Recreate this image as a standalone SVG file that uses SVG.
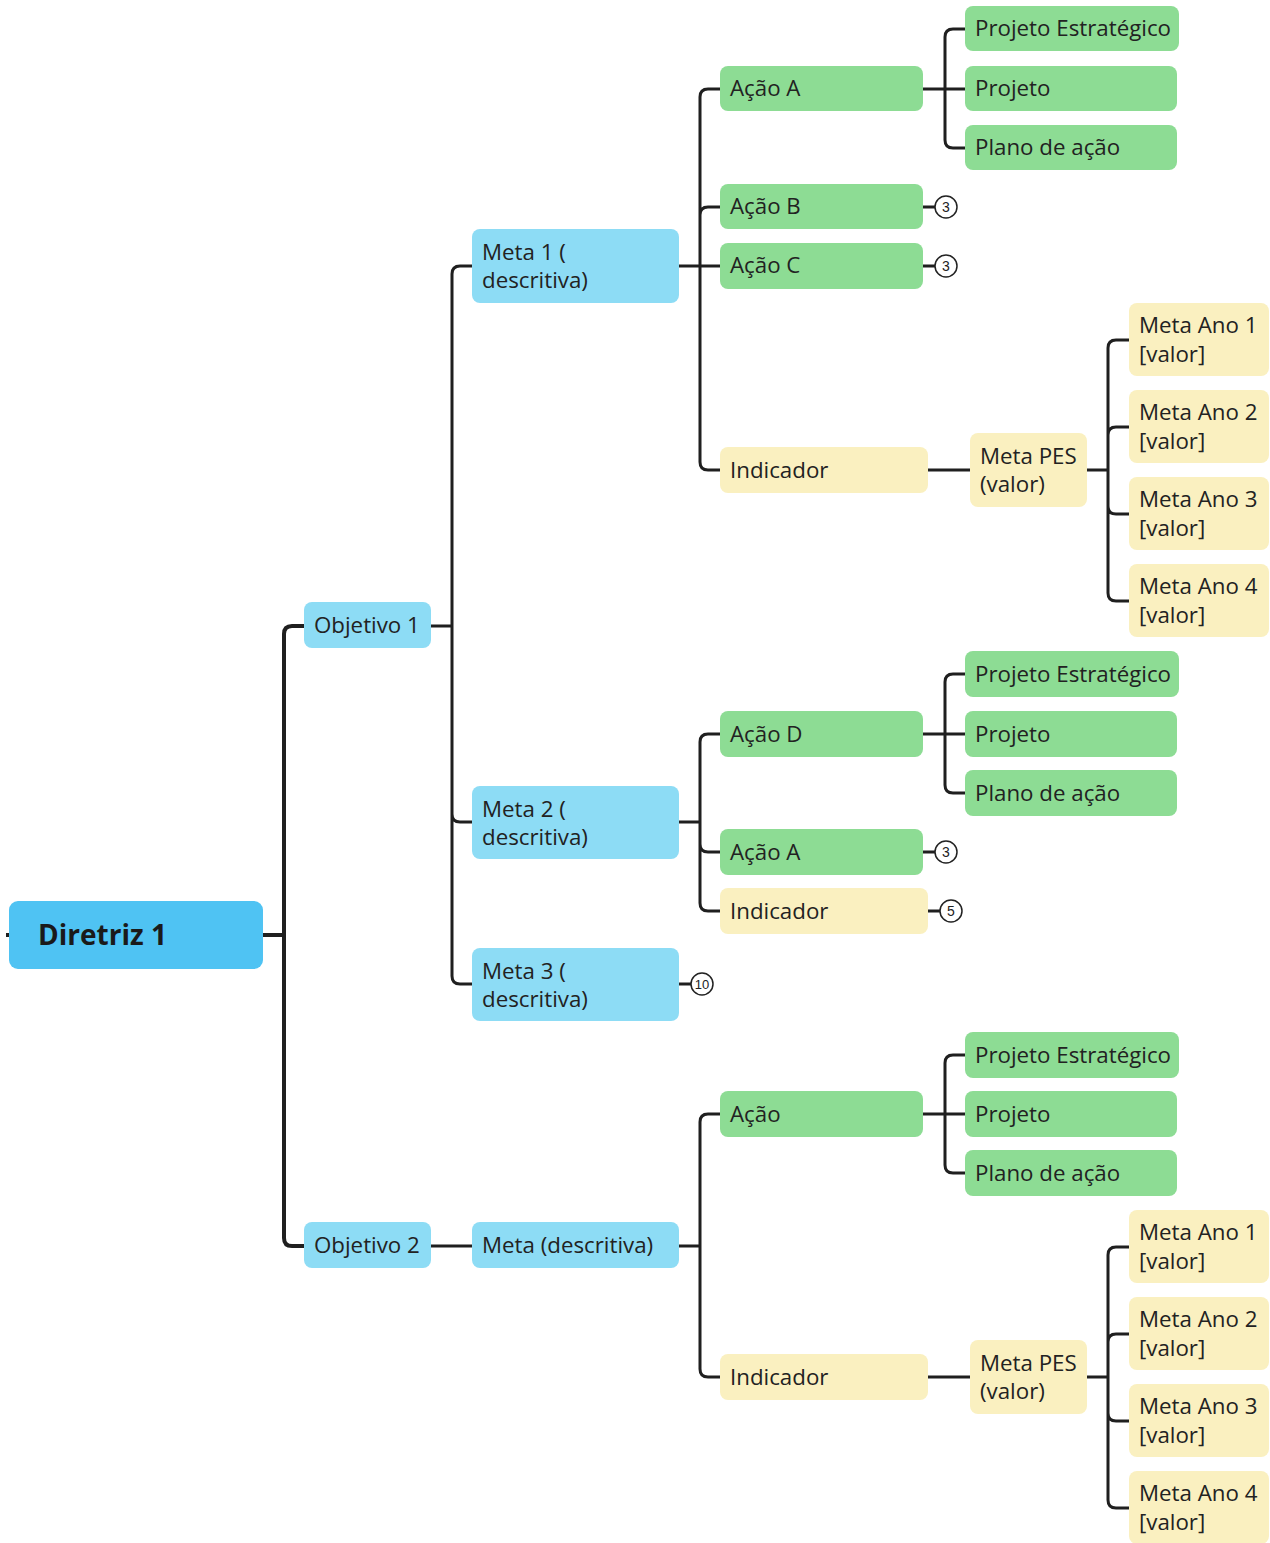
<svg xmlns="http://www.w3.org/2000/svg" width="1270" height="1543" viewBox="0 0 1270 1543">
<style>
text{font-family:"Open Sans","Noto Sans","Liberation Sans",sans-serif;font-size:22.3px;fill:#222}
.root{fill:#4FC3F3}
.blue{fill:#8DDCF5}
.green{fill:#8DDC94}
.yellow{fill:#FAF0C0}
.c{fill:none;stroke:#1f1f1f;stroke-width:3}
.c4{fill:none;stroke:#1f1f1f;stroke-width:4}
.badge{fill:#fff;stroke:#222;stroke-width:1.5}
.bt{font-size:14px;text-anchor:middle;font-family:"Liberation Sans",Arial,sans-serif}
.title{font-size:28px;font-weight:bold;fill:#1a1a1a}
</style>
<g id="connectors">
<path class="c4" d="M6 935 H10"/>
<path class="c4" d="M263 935 H284 M284 935 V634 Q284 626 292 626 H304 M284 935 V1238 Q284 1246 292 1246 H304"/>
<path class="c" d="M431 626 H452 M452 626 V274 Q452 266 460 266 H472 M452 626 V814 Q452 822 460 822 H472 M452 626 V976 Q452 984 460 984 H472"/>
<path class="c" d="M431 1246 H472"/>
<path class="c" d="M679 266 H720 M700 266 V97 Q700 89 708 89 H720 M700 266 V215 Q700 207 708 207 H720 M700 266 V462 Q700 470 708 470 H720"/>
<path class="c" d="M923 89 H965 M945 89 V37 Q945 29 953 29 H965 M945 89 V140 Q945 148 953 148 H965"/>
<path class="c" d="M923 207 H935 M923 266 H935"/>
<path class="c" d="M928 470 H970"/>
<path class="c" d="M1087 470 H1108 M1108 470 V348 Q1108 340 1116 340 H1129 M1108 470 V435 Q1108 427 1116 427 H1129 M1108 470 V506 Q1108 514 1116 514 H1129 M1108 470 V593 Q1108 601 1116 601 H1129"/>
<path class="c" d="M679 822 H700 M700 822 V742 Q700 734 708 734 H720 M700 822 V844 Q700 852 708 852 H720 M700 822 V903 Q700 911 708 911 H720"/>
<path class="c" d="M923 734 H965 M945 734 V682 Q945 674 953 674 H965 M945 734 V785 Q945 793 953 793 H965"/>
<path class="c" d="M923 852 H935 M928 911 H940 M679 984 H691"/>
<path class="c" d="M679 1246 H700 M700 1246 V1122 Q700 1114 708 1114 H720 M700 1246 V1369 Q700 1377 708 1377 H720"/>
<path class="c" d="M923 1114 H965 M945 1114 V1063 Q945 1055 953 1055 H965 M945 1114 V1165 Q945 1173 953 1173 H965"/>
<path class="c" d="M928 1377 H970"/>
<path class="c" d="M1087 1377 H1108 M1108 1377 V1255 Q1108 1247 1116 1247 H1129 M1108 1377 V1342 Q1108 1334 1116 1334 H1129 M1108 1377 V1413 Q1108 1421 1116 1421 H1129 M1108 1377 V1500 Q1108 1508 1116 1508 H1129"/>
</g>
<g id="badges">
<circle class="badge" cx="946" cy="207" r="11"/><text class="bt" x="946" y="212">3</text>
<circle class="badge" cx="946" cy="266" r="11"/><text class="bt" x="946" y="271">3</text>
<circle class="badge" cx="946" cy="852" r="11"/><text class="bt" x="946" y="857">3</text>
<circle class="badge" cx="951" cy="911" r="11"/><text class="bt" x="951" y="916">5</text>
<circle class="badge" cx="702" cy="984" r="11"/><text class="bt" x="702" y="989" style="font-size:13px">10</text>
</g>
<g id="diretriz1"><rect class="root" x="9" y="901" width="254" height="68" rx="9"/><text class="title" x="38" y="945">Diretriz 1</text></g>
<g id="objetivo1"><rect class="blue" x="304" y="602" width="127" height="46" rx="8"/><text x="314" y="633">Objetivo 1</text></g>
<g id="objetivo2"><rect class="blue" x="304" y="1222" width="127" height="46" rx="8"/><text x="314" y="1253">Objetivo 2</text></g>
<g id="meta1"><rect class="blue" x="472" y="229" width="207" height="74" rx="8"/><text x="482" y="260">Meta 1 (</text><text x="482" y="288">descritiva)</text></g>
<g id="meta2"><rect class="blue" x="472" y="786" width="207" height="73" rx="8"/><text x="482" y="817">Meta 2 (</text><text x="482" y="845">descritiva)</text></g>
<g id="meta3"><rect class="blue" x="472" y="948" width="207" height="73" rx="8"/><text x="482" y="979">Meta 3 (</text><text x="482" y="1007">descritiva)</text></g>
<g id="metadesc"><rect class="blue" x="472" y="1222" width="207" height="46" rx="8"/><text x="482" y="1253">Meta (descritiva)</text></g>
<g id="acaoA1"><rect class="green" x="720" y="66" width="203" height="45" rx="8"/><text x="730" y="96">Ação A</text></g>
<g id="pe1"><rect class="green" x="965" y="6" width="214" height="45" rx="8"/><text x="975" y="36">Projeto Estratégico</text></g>
<g id="proj1"><rect class="green" x="965" y="66" width="212" height="45" rx="8"/><text x="975" y="96">Projeto</text></g>
<g id="plano1"><rect class="green" x="965" y="125" width="212" height="45" rx="8"/><text x="975" y="155">Plano de ação</text></g>
<g id="acaoB"><rect class="green" x="720" y="184" width="203" height="45" rx="8"/><text x="730" y="214">Ação B</text></g>
<g id="acaoC"><rect class="green" x="720" y="243" width="203" height="46" rx="8"/><text x="730" y="273">Ação C</text></g>
<g id="ind1"><rect class="yellow" x="720" y="447" width="208" height="46" rx="8"/><text x="730" y="478">Indicador</text></g>
<g id="pes1"><rect class="yellow" x="970" y="433" width="117" height="74" rx="8"/><text x="980" y="464">Meta PES</text><text x="980" y="492">(valor)</text></g>
<g id="ano1a"><rect class="yellow" x="1129" y="303" width="140" height="73" rx="8"/><text x="1139" y="333">Meta Ano 1</text><text x="1139" y="362">[valor]</text></g>
<g id="ano2a"><rect class="yellow" x="1129" y="390" width="140" height="73" rx="8"/><text x="1139" y="420">Meta Ano 2</text><text x="1139" y="449">[valor]</text></g>
<g id="ano3a"><rect class="yellow" x="1129" y="477" width="140" height="73" rx="8"/><text x="1139" y="507">Meta Ano 3</text><text x="1139" y="536">[valor]</text></g>
<g id="ano4a"><rect class="yellow" x="1129" y="564" width="140" height="73" rx="8"/><text x="1139" y="594">Meta Ano 4</text><text x="1139" y="623">[valor]</text></g>
<g id="pe2"><rect class="green" x="965" y="651" width="214" height="46" rx="8"/><text x="975" y="682">Projeto Estratégico</text></g>
<g id="acaoD"><rect class="green" x="720" y="711" width="203" height="46" rx="8"/><text x="730" y="742">Ação D</text></g>
<g id="proj2"><rect class="green" x="965" y="711" width="212" height="46" rx="8"/><text x="975" y="742">Projeto</text></g>
<g id="plano2"><rect class="green" x="965" y="770" width="212" height="46" rx="8"/><text x="975" y="801">Plano de ação</text></g>
<g id="acaoA2"><rect class="green" x="720" y="829" width="203" height="46" rx="8"/><text x="730" y="860">Ação A</text></g>
<g id="ind2"><rect class="yellow" x="720" y="888" width="208" height="46" rx="8"/><text x="730" y="919">Indicador</text></g>
<g id="pe3"><rect class="green" x="965" y="1032" width="214" height="46" rx="8"/><text x="975" y="1063">Projeto Estratégico</text></g>
<g id="acao3"><rect class="green" x="720" y="1091" width="203" height="46" rx="8"/><text x="730" y="1122">Ação</text></g>
<g id="proj3"><rect class="green" x="965" y="1091" width="212" height="46" rx="8"/><text x="975" y="1122">Projeto</text></g>
<g id="plano3"><rect class="green" x="965" y="1150" width="212" height="46" rx="8"/><text x="975" y="1181">Plano de ação</text></g>
<g id="ind3"><rect class="yellow" x="720" y="1354" width="208" height="46" rx="8"/><text x="730" y="1385">Indicador</text></g>
<g id="pes2"><rect class="yellow" x="970" y="1340" width="117" height="74" rx="8"/><text x="980" y="1371">Meta PES</text><text x="980" y="1399">(valor)</text></g>
<g id="ano1b"><rect class="yellow" x="1129" y="1210" width="140" height="73" rx="8"/><text x="1139" y="1240">Meta Ano 1</text><text x="1139" y="1269">[valor]</text></g>
<g id="ano2b"><rect class="yellow" x="1129" y="1297" width="140" height="73" rx="8"/><text x="1139" y="1327">Meta Ano 2</text><text x="1139" y="1356">[valor]</text></g>
<g id="ano3b"><rect class="yellow" x="1129" y="1384" width="140" height="73" rx="8"/><text x="1139" y="1414">Meta Ano 3</text><text x="1139" y="1443">[valor]</text></g>
<g id="ano4b"><rect class="yellow" x="1129" y="1471" width="140" height="73" rx="8"/><text x="1139" y="1501">Meta Ano 4</text><text x="1139" y="1530">[valor]</text></g>
</svg>
